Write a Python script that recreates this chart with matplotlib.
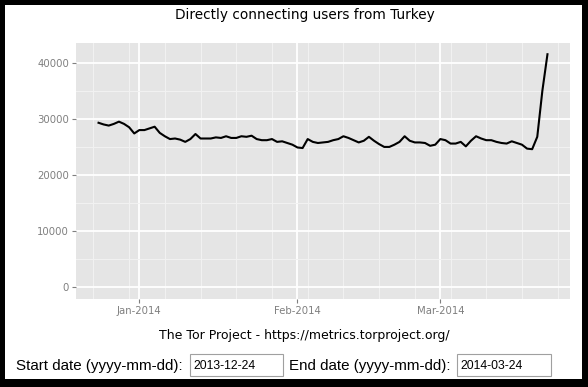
import numpy as np
import matplotlib
matplotlib.use('Agg')
import matplotlib.pyplot as plt
import matplotlib.dates as mdates
from matplotlib.patches import Rectangle

# daily directly-connecting users, 2013-12-24 .. 2014-03-22
dates = np.arange('2013-12-24', '2014-03-23', dtype='datetime64[D]')
users = [29300, 29000, 28800, 29100, 29500, 29100, 28500, 27400,
         28000, 28000, 28300, 28600, 27500, 26900, 26400, 26500, 26300, 25900,
         26400, 27300, 26500, 26500, 26500, 26700, 26600, 26900, 26600, 26600,
         26900, 26800, 27000, 26400, 26200, 26200, 26400, 25900, 26000, 25700,
         25400,
         24900, 24800, 26400, 25900, 25700, 25800, 25900, 26200, 26400, 26900,
         26600, 26200, 25800, 26100, 26800, 26100, 25500, 25000, 25000, 25400,
         25900, 26900, 26100, 25800, 25800, 25700, 25200, 25400,
         26400, 26200, 25600, 25600, 25900, 25100, 26100, 26900, 26500, 26200,
         26200, 25900, 25700, 25600, 26000, 25700, 25400, 24700, 24600, 26800,
         35000, 41500]

title = 'Directly connecting users from Turkey'
caption = 'The Tor Project - https://metrics.torproject.org/'
start_label, start_value = 'Start date (yyyy-mm-dd):', '2013-12-24'
end_label, end_value = 'End date (yyyy-mm-dd):', '2014-03-24'

W, H = 588, 387


def fx(x):
    return x / W


def fy(y):
    return 1 - y / H


fig = plt.figure(figsize=(W / 100, H / 100), dpi=100, facecolor='black')
fig.patches.append(Rectangle((fx(5), fy(379)), fx(577), 374 / H,
                             transform=fig.transFigure, facecolor='white',
                             edgecolor='none', zorder=-5))

ax = fig.add_axes([fx(76), fy(299), fx(494), 256 / H])
ax.set_facecolor('#E5E5E5')
for s in ax.spines.values():
    s.set_visible(False)

x = dates.astype('datetime64[s]').astype(object)
ax.plot(x, users, color='black', lw=1.5, solid_joinstyle='round', zorder=3)

ax.set_xlim(mdates.date2num(np.datetime64('2013-12-19T14:00')),
            mdates.date2num(np.datetime64('2014-03-26T10:00')))
ax.set_ylim(-2070, 43500)

ax.xaxis.set_major_locator(mdates.MonthLocator())
ax.xaxis.set_major_formatter(mdates.DateFormatter('%b-%Y'))
ax.xaxis.set_minor_locator(mdates.WeekdayLocator(byweekday=mdates.MO))
ax.set_yticks([0, 10000, 20000, 30000, 40000])
ax.set_yticks(np.arange(5000, 40000, 10000), minor=True)

ax.grid(which='major', color='white', lw=1.3, zorder=1)
ax.grid(which='minor', color='#F2F2F2', lw=0.7, zorder=0.5)
ax.set_axisbelow(True)
ax.tick_params(which='major', length=3, width=0.8, color='#7F7F7F',
               labelcolor='#7F7F7F', labelsize=7.3, pad=2)
ax.tick_params(which='minor', length=0)

fig.text(fx(305), fy(15), title, ha='center', va='center', fontsize=9.8,
         family='DejaVu Sans')
fig.text(fx(304), fy(336), caption, ha='center', va='center', fontsize=9,
         family='DejaVu Sans')

form_font = 'Liberation Sans'
fig.text(fx(16), fy(366), start_label, ha='left', va='center', fontsize=10.9,
         family=form_font)
fig.text(fx(289), fy(366), end_label, ha='left', va='center', fontsize=10.9,
         family=form_font)
for x0, x1, val in [(190, 283, start_value), (457, 551, end_value)]:
    fig.patches.append(Rectangle((fx(x0), fy(376)), fx(x1 - x0), 22 / H,
                                 transform=fig.transFigure, facecolor='white',
                                 edgecolor='#A0A0A0', lw=0.8))
    fig.text(fx(x0 + 3), fy(366), val, ha='left', va='center', fontsize=8.8,
             family=form_font)

fig.savefig('out.png', dpi=100, facecolor=fig.get_facecolor())
